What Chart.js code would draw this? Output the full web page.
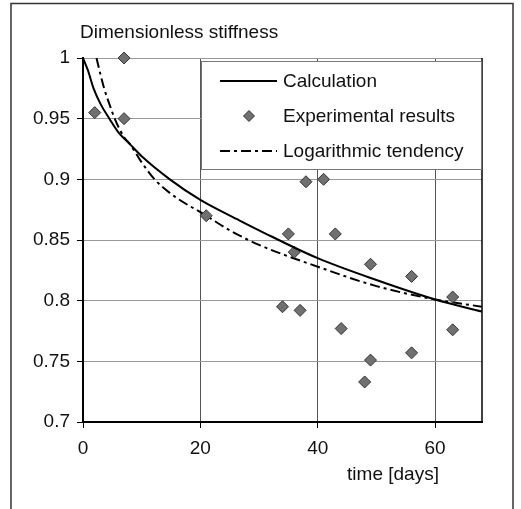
<!DOCTYPE html>
<html>
<head>
<meta charset="utf-8">
<script src="https://cdn.jsdelivr.net/npm/chart.js@4.4.1/dist/chart.umd.min.js"></script>
<style>
  html, body { margin: 0; padding: 0; background: #fff; }
  #wrap { width: 521px; height: 509px; }
</style>
</head>
<body>
<div id="wrap"><canvas id="stiffChart" width="521" height="509"></canvas></div>
<script>
// experimental points
const expDays  = [2, 7, 7, 21, 34, 35, 36, 37, 38, 41, 43, 44, 48, 49, 49, 56, 56, 63, 63];
const expStiff = [0.955, 1.0, 0.95, 0.87, 0.795, 0.855, 0.84, 0.792, 0.898, 0.9, 0.855, 0.777, 0.733, 0.83, 0.751, 0.82, 0.757, 0.803, 0.776];

// calculated curve
const calcDays  = [0, 0.9, 1.8, 3, 4.5, 6, 8, 10, 14.8, 20, 26.7, 30, 40, 50, 60, 68];
const calcStiff = [1.0, 0.989, 0.975, 0.962, 0.95, 0.939, 0.929, 0.919, 0.9, 0.883, 0.866, 0.858, 0.835, 0.817, 0.801, 0.791];

// logarithmic trend line
const logDays  = [2.3, 3, 3.6, 4.5, 5.4, 7.1, 8, 10, 12.2, 15, 21, 25, 30, 40, 50, 60, 68];
const logStiff = [1.0, 0.986, 0.975, 0.962, 0.95, 0.934, 0.929, 0.914, 0.9, 0.888, 0.87, 0.858, 0.846, 0.828, 0.812, 0.801, 0.795];

const xTicks = [0, 20, 40, 60];
const yTicks = [0.7, 0.75, 0.8, 0.85, 0.9, 0.95, 1];
const seriesNames = ['Calculation', 'Experimental results', 'Logarithmic tendency'];

const toXY = (xs, ys) => xs.map((x, i) => ({ x: x, y: ys[i] }));
const FONT = '"Liberation Sans", Arial, sans-serif';

Chart.defaults.font.family = FONT;
Chart.defaults.font.size = 19;
Chart.defaults.color = '#111';

// frame, plot border, legend box and the two titles
const extras = {
    id: 'extras',
    beforeDraw(chart) {
        const ctx = chart.ctx;
        ctx.save();
        ctx.strokeStyle = '#333';
        ctx.lineWidth = 1.5;
        ctx.strokeRect(11, 3.5, 502, 530);
        ctx.restore();
    },
    afterDatasetsDraw(chart) {
        const ctx = chart.ctx;
        const ca = chart.chartArea;
        ctx.save();
        // right edge of plot
        ctx.strokeStyle = '#000';
        ctx.lineWidth = 1.5;
        ctx.beginPath();
        ctx.moveTo(ca.right, ca.top);
        ctx.lineTo(ca.right, ca.bottom);
        ctx.stroke();

        // legend
        const lx = ca.left + 118, ly = ca.top + 3;
        const lw = ca.right - lx, lh = 108;
        ctx.fillStyle = '#fff';
        ctx.fillRect(lx, ly, lw, lh);
        ctx.strokeStyle = '#777';
        ctx.lineWidth = 1;
        ctx.strokeRect(lx + 0.5, ly + 0.5, lw - 1, lh);
        ctx.font = '19px ' + FONT;
        ctx.textBaseline = 'middle';
        ctx.textAlign = 'left';
        chart.data.datasets.forEach((ds, i) => {
            const cy = ly + 20 + i * 35;
            if (ds.showLine) {
                ctx.strokeStyle = ds.borderColor;
                ctx.lineWidth = ds.borderWidth;
                ctx.setLineDash(ds.borderDash || []);
                ctx.beginPath();
                ctx.moveTo(lx + 19, cy);
                ctx.lineTo(lx + 76, cy);
                ctx.stroke();
                ctx.setLineDash([]);
            } else {
                ctx.fillStyle = ds.backgroundColor;
                ctx.strokeStyle = ds.borderColor;
                ctx.lineWidth = 1;
                Chart.helpers.drawPoint(ctx, { pointStyle: 'rectRot', radius: 5.5, rotation: 0, borderWidth: 1 }, lx + 48, cy);
            }
            ctx.fillStyle = '#111';
            ctx.fillText(ds.label, lx + 82, cy + 1);
        });
        ctx.restore();
    },
    afterDraw(chart) {
        const ctx = chart.ctx;
        const ca = chart.chartArea;
        ctx.save();
        ctx.font = '19px ' + FONT;
        ctx.fillStyle = '#111';
        ctx.textBaseline = 'alphabetic';
        ctx.textAlign = 'left';
        ctx.fillText('Dimensionless stiffness', ca.left - 3, ca.top - 20);
        ctx.textAlign = 'center';
        ctx.fillText('time [days]', ca.left + 310, ca.bottom + 58);
        ctx.restore();
    }
};

new Chart(document.getElementById('stiffChart'), {
    type: 'scatter',
    data: {
        datasets: [{
            label: seriesNames[0],
            data: toXY(calcDays, calcStiff),
            showLine: true,
            borderColor: '#000',
            borderWidth: 2,
            pointRadius: 0,
            cubicInterpolationMode: 'monotone'
        }, {
            label: seriesNames[1],
            data: toXY(expDays, expStiff),
            showLine: false,
            backgroundColor: '#707070',
            borderColor: '#333',
            borderWidth: 1,
            pointStyle: 'rectRot',
            pointRadius: 6,
            clip: false
        }, {
            label: seriesNames[2],
            data: toXY(logDays, logStiff),
            showLine: true,
            borderColor: '#000',
            borderWidth: 2,
            borderDash: [10, 4, 3, 4],
            pointRadius: 0,
            cubicInterpolationMode: 'monotone'
        }]
    },
    options: {
        responsive: false,
        animation: false,
        layout: { padding: { top: 58, right: 39, left: 0, bottom: 0 } },
        plugins: {
            legend: { display: false },
            tooltip: { enabled: false }
        },
        scales: {
            x: {
                type: 'linear',
                min: 0,
                max: 68,
                afterBuildTicks: s => { s.ticks = xTicks.map(v => ({ value: v })); },
                afterFit: s => { s.height = 87; },
                ticks: { padding: 9, callback: v => String(v) },
                grid: { color: '#555', tickColor: '#000', tickLength: 6 },
                border: { color: '#000', width: 2 }
            },
            y: {
                min: 0.7,
                max: 1,
                afterBuildTicks: s => { s.ticks = yTicks.map(v => ({ value: v })); },
                afterFit: s => { s.width = 83; },
                ticks: { padding: 7, callback: v => String(Number(v.toFixed(2))) },
                grid: { color: '#999', tickColor: '#000', tickLength: 6 },
                border: { color: '#000', width: 2 }
            }
        }
    },
    plugins: [extras]
});
</script>
</body>
</html>
